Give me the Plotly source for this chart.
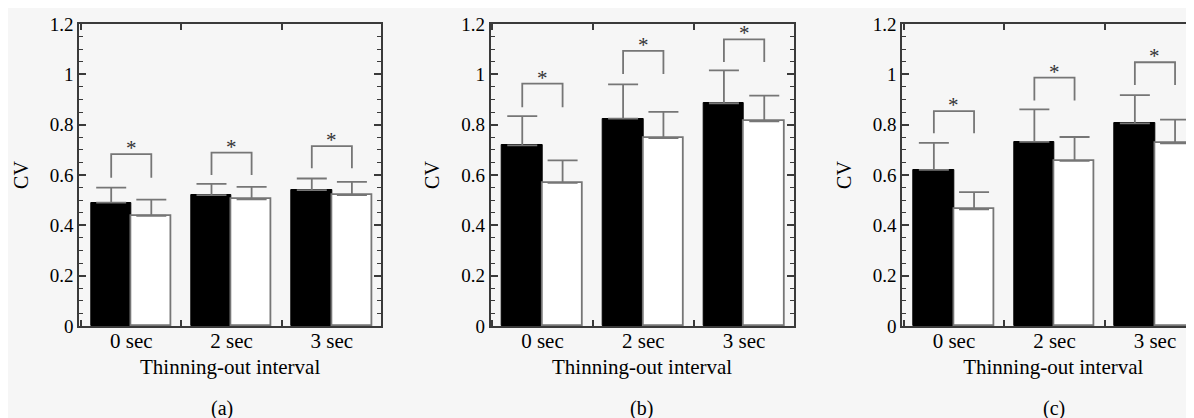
import plotly.graph_objects as go

categories = ["0 sec", "2 sec", "3 sec"]
cat_pos = [0, 1, 2]
panel_labels = ["(a)", "(b)", "(c)"]

# Panel (a)
a_black = [0.49, 0.52, 0.54]
a_black_err = [0.06, 0.045, 0.046]
a_white = [0.438, 0.503, 0.52]
a_white_err = [0.064, 0.05, 0.053]
a_br_top = [0.683, 0.689, 0.715]
a_br_left = [0.589, 0.60, 0.627]
a_br_right = [0.589, 0.60, 0.627]

# Panel (b)
b_black = [0.718, 0.824, 0.885]
b_black_err = [0.116, 0.136, 0.131]
b_white = [0.569, 0.747, 0.813]
b_white_err = [0.089, 0.104, 0.102]
b_br_top = [0.963, 1.093, 1.139]
b_br_left = [0.869, 1.001, 1.049]
b_br_right = [0.869, 1.001, 1.049]

# Panel (c)
c_black = [0.620, 0.732, 0.805]
c_black_err = [0.108, 0.129, 0.112]
c_white = [0.464, 0.656, 0.726]
c_white_err = [0.068, 0.095, 0.094]
c_br_top = [0.854, 0.987, 1.048]
c_br_left = [0.766, 0.896, 0.958]
c_br_right = [0.766, 0.896, 0.958]

panels = [
    (a_black, a_black_err, a_white, a_white_err, a_br_top, a_br_left, a_br_right),
    (b_black, b_black_err, b_white, b_white_err, b_br_top, b_br_left, b_br_right),
    (c_black, c_black_err, c_white, c_white_err, c_br_top, c_br_left, c_br_right),
]

# figure is placed by the page at an 8px offset; geometry is in figure pixels
W, H = 1230, 418
x_dom_px = [(71.3, 373.0), (482.7, 785.5), (894.3, 1196.2)]
x_ranges = [(-0.518, 2.49), (-0.513, 2.49), (-0.514, 2.49)]
y_top_px, y_bot_px = 16.0, 318.0

GRAY = "#767676"
FRAME = "#3a3a3a"
FONT = "Liberation Serif"
BG = "#f6f6f6"
half = 0.2

fig = go.Figure()

for i, (bk, bke, wh, whe, bt, bl, brr) in enumerate(panels):
    sfx = "" if i == 0 else str(i + 1)
    xa, ya = "x" + sfx, "y" + sfx
    fig.add_trace(go.Bar(
        x=cat_pos, y=bk, width=0.4, offset=-0.4,
        marker=dict(color="black", line=dict(color="black", width=1)),
        error_y=dict(type="data", array=bke, arrayminus=[0] * 3, symmetric=False,
                     color=GRAY, thickness=1.8, width=15),
        xaxis=xa, yaxis=ya, showlegend=False))
    fig.add_trace(go.Bar(
        x=cat_pos, y=wh, width=0.4, offset=0,
        marker=dict(color="white", line=dict(color=GRAY, width=1.8)),
        error_y=dict(type="data", array=whe, arrayminus=[0] * 3, symmetric=False,
                     color=GRAY, thickness=1.8, width=15),
        xaxis=xa, yaxis=ya, showlegend=False))
    bx, by = [], []
    for p, t, l, r in zip(cat_pos, bt, bl, brr):
        bx += [p - half, p - half, p + half, p + half, None]
        by += [l, t, t, r, None]
    fig.add_trace(go.Scatter(x=bx, y=by, mode="lines",
                             line=dict(color=GRAY, width=1.8),
                             xaxis=xa, yaxis=ya, showlegend=False, hoverinfo="skip"))
    for p, t in zip(cat_pos, bt):
        fig.add_annotation(x=p, y=t, xref=xa, yref=ya, text="*", showarrow=False,
                           yanchor="middle", yshift=6,
                           font=dict(family=FONT, size=21, color="#333"))

    x0, x1 = x_dom_px[i]
    fig.update_layout(**{
        "xaxis" + sfx: dict(
            domain=[x0 / W, x1 / W], range=list(x_ranges[i]), automargin=False,
            anchor=ya, tickvals=cat_pos, ticktext=categories, ticks="",
            ticklabelstandoff=-5,
            showline=True, linecolor=FRAME, linewidth=2, mirror="allticks",
            showgrid=False, zeroline=False,
            minor=dict(tick0=0.5, dtick=1, ticks="inside", ticklen=6,
                       tickcolor=FRAME, tickwidth=1.5, showgrid=False),
            tickfont=dict(family=FONT, size=21, color="black"),
            title=dict(text="Thinning-out interval", standoff=7,
                       font=dict(family=FONT, size=21, color="black")),
        ),
        "yaxis" + sfx: dict(
            domain=[1 - y_bot_px / H, 1 - y_top_px / H], range=[0, 1.2],
            automargin=False,
            anchor=xa, dtick=0.2, ticks="inside", ticklen=7, tickwidth=1.5,
            tickcolor=FRAME, showline=True, linecolor=FRAME, linewidth=2,
            mirror="allticks",
            showgrid=False, zeroline=False,
            minor=dict(dtick=0.05, ticks="inside", ticklen=4, tickwidth=1.2,
                       tickcolor=FRAME, showgrid=False),
            tickfont=dict(family=FONT, size=19, color="black"),
            title=dict(text="CV", standoff=16,
                       font=dict(family=FONT, size=20, color="black")),
        ),
    })

label_x = [214, 633.7, 1046]
for lx, lab in zip(label_x, panel_labels):
    fig.add_annotation(x=lx / W, y=1 - 400 / H, xref="paper", yref="paper",
                       text=lab, showarrow=False, xanchor="center", yanchor="middle",
                       font=dict(family=FONT, size=20, color="black"))

fig.update_layout(
    width=W, height=H, margin=dict(l=0, r=0, t=0, b=0),
    paper_bgcolor=BG, plot_bgcolor="rgba(0,0,0,0)",
    barmode="overlay", bargap=0,
)

fig.write_html("out.html")
